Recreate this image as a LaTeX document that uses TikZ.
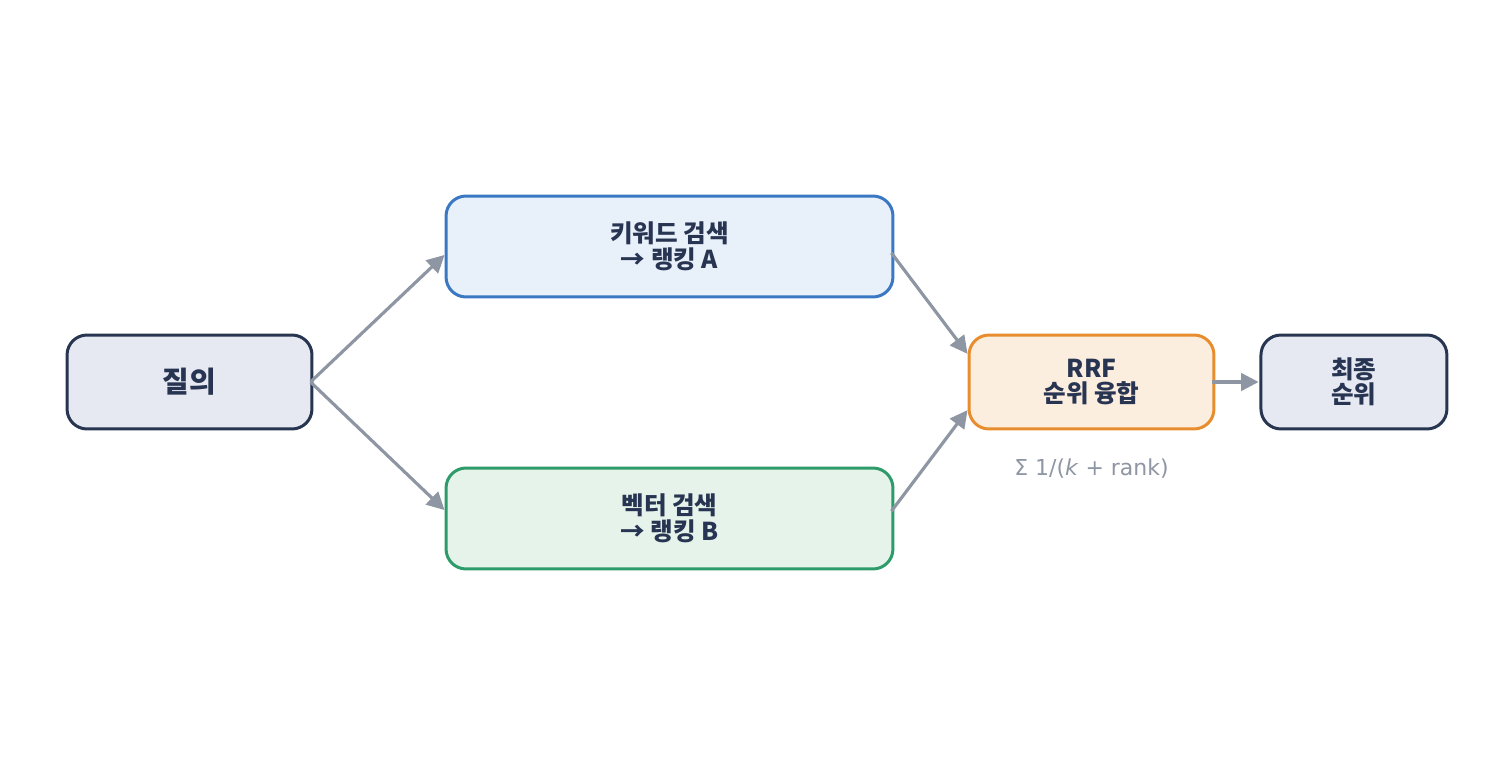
\documentclass[tikz,border=0pt]{standalone}
\usepackage{fontspec}
\setmainfont{Noto Sans CJK KR}
\newfontfamily\formulafont{DejaVu Sans}
\usetikzlibrary{arrows.meta,positioning}

\definecolor{ink}{HTML}{283552}
\definecolor{edgegray}{HTML}{8E96A3}
\definecolor{navyline}{HTML}{273550}
\definecolor{navyfill}{HTML}{E6E9F1}
\definecolor{blueline}{HTML}{3A78C3}
\definecolor{bluefill}{HTML}{E8F0F9}
\definecolor{greenline}{HTML}{2E9B6A}
\definecolor{greenfill}{HTML}{E6F3EA}
\definecolor{orangeline}{HTML}{E88D2E}
\definecolor{orangefill}{HTML}{FCEEDF}

\begin{document}
\begin{tikzpicture}[x=0.02cm,y=0.02cm,
        box/.style={draw,rounded corners=0.4cm,line width=1.7pt,align=center,text=ink,
            font=\bfseries\fontsize{14}{14.5}\selectfont,minimum height=1.88cm,inner sep=0pt},
        wide/.style={box,minimum width=8.94cm,minimum height=2.02cm},
        link/.style={-{Triangle[length=10pt,width=10pt]},line width=1.8pt,draw=edgegray}]
        \useasboundingbox (0,0) rectangle (1485,765);

        \node[box,draw=navyline,fill=navyfill,minimum width=4.9cm,
            font=\bfseries\fontsize{16.5}{18}\selectfont] (query) at (189.5,383) {질의};
        \node[wide,draw=blueline,fill=bluefill] (keyword) at (669.5,518.5) {키워드 검색\\→ 랭킹 A};
        \node[wide,draw=greenline,fill=greenfill] (vector) at (669.5,246.5) {벡터 검색\\→ 랭킹 B};
        \node[box,draw=orangeline,fill=orangefill,minimum width=4.9cm] (rrf) at (1091.5,383) {RRF\\순위 융합};
        \node[box,draw=navyline,fill=navyfill,minimum width=3.72cm] (final) [right=0.88cm of rrf] {최종\\순위};
        \node[text=edgegray,font=\formulafont\fontsize{12.5}{14}\selectfont] (formula) at (1091.5,296)
            {Σ 1/(\textit{k} + rank)};

        \draw[link] ([xshift=-1.7pt]query.east) -- ([yshift=-4.8pt]keyword.west);
        \draw[link] ([xshift=-1.7pt]query.east) -- ([yshift=4.8pt]vector.west);
        \draw[link] ([xshift=-1.7pt,yshift=-3.7pt]keyword.east) -- ([yshift=16pt]rrf.west);
        \draw[link] ([xshift=-1.7pt,yshift=4.2pt]vector.east) -- ([yshift=-16pt]rrf.west);
        \draw[link] ([xshift=-1.7pt]rrf.east) -- ([xshift=-0.5pt]final.west);
    \end{tikzpicture}
\end{document}
